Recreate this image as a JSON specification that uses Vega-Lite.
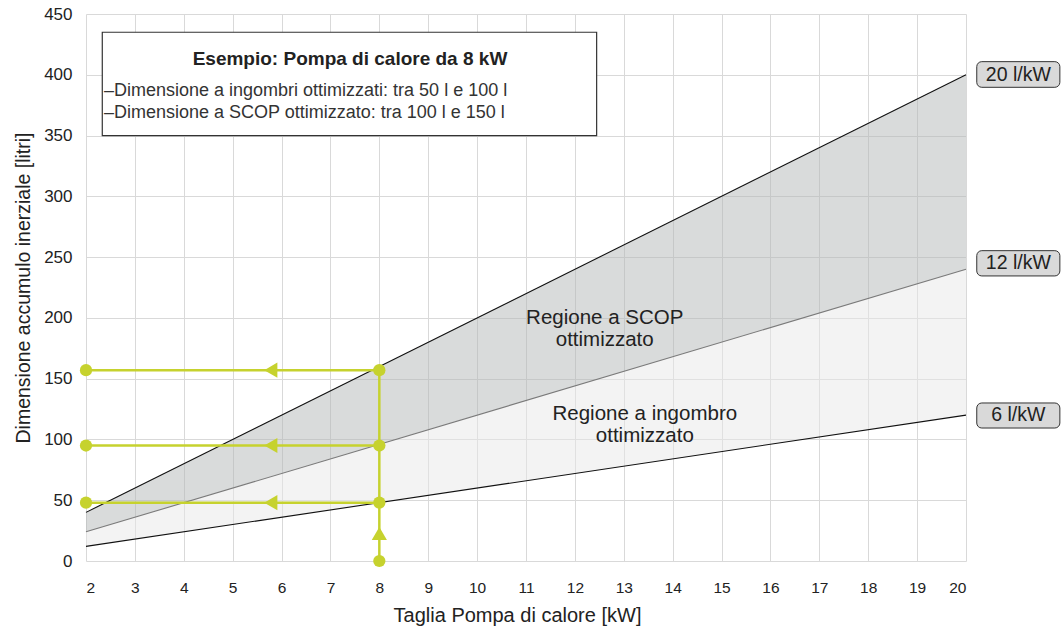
{
  "$schema": "https://vega.github.io/schema/vega-lite/v6.json",
  "width": 880,
  "height": 547,
  "autosize": {"type": "none"},
  "padding": {"left": 86, "top": 14, "right": 96, "bottom": 66},
  "background": "white",
  "config": {"font": "Liberation Sans", "view": {"stroke": null}},
  "datasets": {
    "band_dark": [{"x": 2, "y": 40, "y2": 24}, {"x": 20, "y": 400, "y2": 240}],
    "band_light": [{"x": 2, "y": 24, "y2": 12}, {"x": 20, "y": 240, "y2": 120}],
    "lines": [
      {"s": "20 l/kW", "x": 2, "y": 40}, {"s": "20 l/kW", "x": 20, "y": 400},
      {"s": "12 l/kW", "x": 2, "y": 24}, {"s": "12 l/kW", "x": 20, "y": 240},
      {"s": "6 l/kW", "x": 2, "y": 12}, {"s": "6 l/kW", "x": 20, "y": 120}
    ],
    "guides": [
      {"x": 2, "x2": 8, "y": 157, "y2": 157},
      {"x": 2, "x2": 8, "y": 95, "y2": 95},
      {"x": 2, "x2": 8, "y": 48, "y2": 48},
      {"x": 8, "x2": 8, "y": 0, "y2": 157}
    ],
    "dots": [
      {"x": 2, "y": 157}, {"x": 8, "y": 157},
      {"x": 2, "y": 95}, {"x": 8, "y": 95},
      {"x": 2, "y": 48}, {"x": 8, "y": 48},
      {"x": 8, "y": 0}
    ],
    "arrows": [
      {"x": 5.78, "y": 157, "dir": "triangle-left"},
      {"x": 5.78, "y": 95, "dir": "triangle-left"},
      {"x": 5.78, "y": 48, "dir": "triangle-left"},
      {"x": 8, "y": 22.6, "dir": "triangle-up"}
    ],
    "regions": [
      {"x": 12.61, "y": 195.2, "t": "Regione a SCOP|ottimizzato"},
      {"x": 13.43, "y": 115.7, "t": "Regione a ingombro|ottimizzato"}
    ],
    "tags": [
      {"x": 20.22, "x2": 21.92, "y": 410.8, "y2": 389.7, "xc": 21.07, "yc": 400.2, "t": "20 l/kW"},
      {"x": 20.22, "x2": 21.92, "y": 255.3, "y2": 234.5, "xc": 21.07, "yc": 244.9, "t": "12 l/kW"},
      {"x": 20.22, "x2": 21.92, "y": 130.0, "y2": 109.4, "xc": 21.07, "yc": 119.7, "t": "6 l/kW"}
    ],
    "legendbox": [{"x": 2.333, "x2": 12.445, "y": 435.0, "y2": 349.9}],
    "legendtitle": [{"x": 7.40, "y": 408.0, "t": "Esempio: Pompa di calore da 8 kW"}],
    "legendlines": [
      {"x": 2.368, "y": 382.8, "t": "–Dimensione a ingombri ottimizzati: tra 50 l e 100 l"},
      {"x": 2.368, "y": 364.7, "t": "–Dimensione a SCOP ottimizzato: tra 100 l e 150 l"}
    ]
  },
  "layer": [
    {
      "data": {"name": "band_dark"},
      "mark": {"type": "area", "color": "#b3b7b7", "opacity": 0.5},
      "encoding": {
        "x": {"field": "x", "type": "quantitative",
          "scale": {"domain": [2, 20], "nice": false, "zero": false},
          "axis": {"values": [2,3,4,5,6,7,8,9,10,11,12,13,14,15,16,17,18,19,20],
            "grid": true, "gridColor": "#d9d9d9", "ticks": false, "domain": false,
            "labelFontSize": 15.5, "labelColor": "#222", "labelPadding": 19, "labelFlush": true,
            "title": "Taglia Pompa di calore [kW]", "titleFontSize": 20, "titleFontWeight": "normal",
            "titleColor": "#222", "titlePadding": 10, "titleX": 431}},
        "y": {"field": "y", "type": "quantitative",
          "scale": {"domain": [0, 450], "nice": false},
          "axis": {"values": [0,50,100,150,200,250,300,350,400,450],
            "grid": true, "gridColor": "#d9d9d9", "ticks": false, "domain": false,
            "labelFontSize": 17, "labelColor": "#222", "labelPadding": 14,
            "title": "Dimensione accumulo inerziale [litri]", "titleFontSize": 19.5, "titleFontWeight": "normal",
            "titleColor": "#222", "titlePadding": 10}},
        "y2": {"field": "y2"}
      }
    },
    {
      "data": {"name": "band_light"},
      "mark": {"type": "area", "color": "#e8e8e8", "opacity": 0.5},
      "encoding": {
        "x": {"field": "x", "type": "quantitative"},
        "y": {"field": "y", "type": "quantitative"},
        "y2": {"field": "y2"}
      }
    },
    {
      "data": {"name": "lines"},
      "mark": {"type": "line", "strokeWidth": 1.1},
      "encoding": {
        "x": {"field": "x", "type": "quantitative"},
        "y": {"field": "y", "type": "quantitative"},
        "color": {"field": "s", "type": "nominal", "legend": null,
          "scale": {"domain": ["20 l/kW", "12 l/kW", "6 l/kW"], "range": ["#111111", "#7a7a7a", "#111111"]}}
      }
    },
    {
      "data": {"name": "guides"},
      "mark": {"type": "rule", "color": "#c6d22e", "strokeWidth": 2.5},
      "encoding": {
        "x": {"field": "x", "type": "quantitative"},
        "x2": {"field": "x2"},
        "y": {"field": "y", "type": "quantitative"},
        "y2": {"field": "y2"}
      }
    },
    {
      "data": {"name": "dots"},
      "mark": {"type": "point", "filled": true, "shape": "circle", "size": 150, "color": "#c6d22e", "opacity": 1},
      "encoding": {
        "x": {"field": "x", "type": "quantitative"},
        "y": {"field": "y", "type": "quantitative"}
      }
    },
    {
      "data": {"name": "arrows"},
      "mark": {"type": "point", "filled": true, "size": 230, "color": "#c6d22e", "opacity": 1},
      "encoding": {
        "x": {"field": "x", "type": "quantitative"},
        "y": {"field": "y", "type": "quantitative"},
        "shape": {"field": "dir", "type": "nominal", "scale": null}
      }
    },
    {
      "data": {"name": "regions"},
      "mark": {"type": "text", "fontSize": 20.5, "color": "#222", "align": "center", "baseline": "alphabetic", "lineBreak": "|", "lineHeight": 22},
      "encoding": {
        "x": {"field": "x", "type": "quantitative"},
        "y": {"field": "y", "type": "quantitative"},
        "text": {"field": "t"}
      }
    },
    {
      "data": {"name": "tags"},
      "mark": {"type": "rect", "fill": "#d9d9d9", "stroke": "#333", "strokeWidth": 1, "cornerRadius": 5},
      "encoding": {
        "x": {"field": "x", "type": "quantitative"},
        "x2": {"field": "x2"},
        "y": {"field": "y", "type": "quantitative"},
        "y2": {"field": "y2"}
      }
    },
    {
      "data": {"name": "tags"},
      "mark": {"type": "text", "fontSize": 19.5, "color": "#222", "align": "center", "baseline": "middle"},
      "encoding": {
        "x": {"field": "xc", "type": "quantitative"},
        "y": {"field": "yc", "type": "quantitative"},
        "text": {"field": "t"}
      }
    },
    {
      "data": {"name": "legendbox"},
      "mark": {"type": "rect", "fill": "white", "stroke": "#333", "strokeWidth": 1.2},
      "encoding": {
        "x": {"field": "x", "type": "quantitative"},
        "x2": {"field": "x2"},
        "y": {"field": "y", "type": "quantitative"},
        "y2": {"field": "y2"}
      }
    },
    {
      "data": {"name": "legendtitle"},
      "mark": {"type": "text", "fontSize": 19, "fontWeight": "bold", "color": "#222", "align": "center", "baseline": "alphabetic"},
      "encoding": {
        "x": {"field": "x", "type": "quantitative"},
        "y": {"field": "y", "type": "quantitative"},
        "text": {"field": "t"}
      }
    },
    {
      "data": {"name": "legendlines"},
      "mark": {"type": "text", "fontSize": 18, "color": "#333", "align": "left", "baseline": "alphabetic"},
      "encoding": {
        "x": {"field": "x", "type": "quantitative"},
        "y": {"field": "y", "type": "quantitative"},
        "text": {"field": "t"}
      }
    }
  ]
}
